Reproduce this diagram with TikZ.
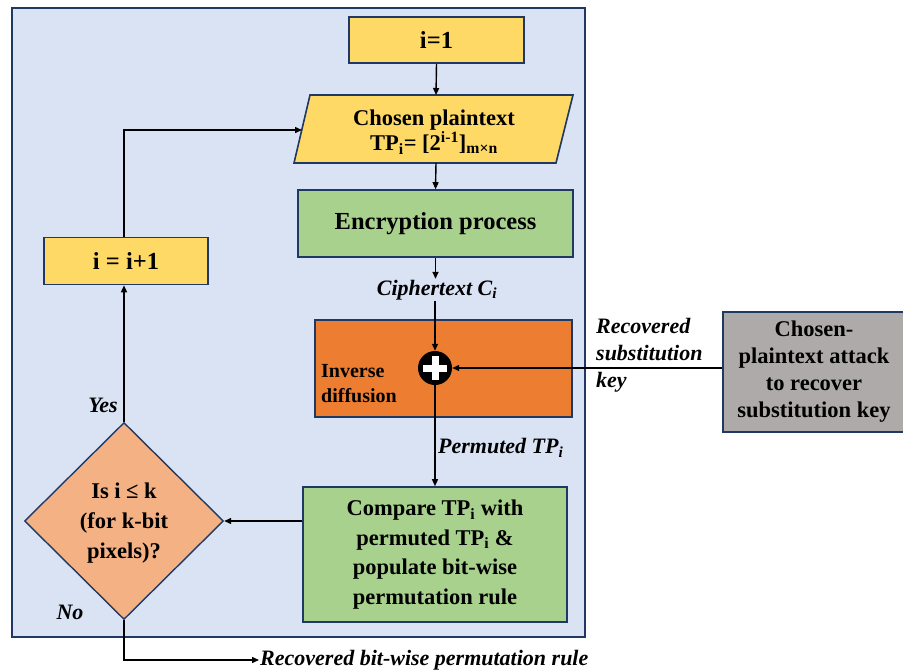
\documentclass[tikz,border=0pt]{standalone}
\usepackage{fontspec}
\setmainfont{Liberation Serif}
\usetikzlibrary{arrows.meta,shapes.geometric}
\definecolor{panel}{HTML}{DAE3F3}
\definecolor{navy}{HTML}{203864}
\definecolor{yel}{HTML}{FFD966}
\definecolor{grn}{HTML}{A9D18E}
\definecolor{org}{HTML}{ED7D31}
\definecolor{dorg}{HTML}{F4B183}
\definecolor{gry}{HTML}{AEAAAA}
\tikzset{
  box/.style={draw=navy,line width=1.6pt,inner sep=0pt,align=center,font=\fontsize{22.5}{22.5}\selectfont\bfseries},
  big/.style={font=\fontsize{24.5}{26}\selectfont\bfseries},
  lbl/.style={inner sep=1pt,font=\fontsize{22}{26}\selectfont\bfseries\itshape},
  conn/.style={line width=1.4pt,-{Triangle[length=7pt,width=6pt]}},
  plain/.style={line width=1.4pt}
}
\begin{document}
\begin{tikzpicture}[x=1pt,y=-1pt]
\useasboundingbox (0,0) rectangle (903,670);
% panel
\fill[panel,draw=navy,line width=1.8pt] (12,8) rectangle (585,637);
% i=1
\node[box,big,fill=yel,minimum width=175pt,minimum height=46pt] (i1) at (436.5,40) {i=1};
% parallelogram
\filldraw[fill=yel,draw=navy,line width=1.6pt] (310,95) -- (573,95) -- (556,163) -- (294,163) -- cycle;
\coordinate (cptop) at (436,95);
\coordinate (cpbot) at (436,163);
\coordinate (cpleft) at (302,130);
\node[box,draw=none,font=\fontsize{22.5}{25}\selectfont\bfseries] (cp) at (434,132) {Chosen plaintext\\TP\textsubscript{i}= [2\textsuperscript{i-1}]\textsubscript{m×n}};
% encryption
\node[box,big,fill=grn,minimum width=275pt,minimum height=67pt] (enc) at (435.5,223.5) {Encryption process};
% ciphertext label
\node[lbl] (ct) at (437,290) {Ciphertext \textit{C}\textsubscript{\textit{i}}};
% inverse diffusion
\node[box,fill=org,minimum width=257pt,minimum height=97pt] (inv) at (443.5,368.5) {};
\node[anchor=west,align=left,inner sep=0pt,font=\fontsize{20}{25}\selectfont\bfseries] (invt) at (321,384) {Inverse\\diffusion};
\node[circle,fill=black,minimum size=34pt,inner sep=0pt] (xor) at (435,368) {};
\draw[white,line width=7pt] (435,356) -- (435,380) (423,368) -- (447,368);
% compare
\node[box,fill=grn,minimum width=264pt,minimum height=135pt,font=\fontsize{22.5}{29.5}\selectfont\bfseries] (cmp) at (435,554.5) {Compare TP\textsubscript{i} with\\permuted TP\textsubscript{i} \&\\populate bit-wise\\permutation rule};
% diamond
\node[diamond,draw=navy,line width=1.4pt,fill=dorg,minimum width=199pt,minimum height=197pt,inner sep=0pt] (dia) at (124,521) {};
\node[box,draw=none,font=\fontsize{22.5}{30}\selectfont\bfseries] (diat) at (124,523) {Is i ≤ k\\(for k-bit\\pixels)?};
% i=i+1
\node[box,big,fill=yel,minimum width=164pt,minimum height=47pt] (inc) at (126,261) {i = i+1};
% gray
\node[box,fill=gry,minimum width=182pt,minimum height=120pt,font=\fontsize{22.5}{27}\selectfont\bfseries] (gray) at (814,372) {Chosen-\\plaintext attack\\to recover\\substitution key};
% labels
\node[lbl,anchor=west,align=left,font=\fontsize{22}{27}\selectfont\bfseries\itshape] (keyl) at (595,355) {Recovered\\substitution\\key};
\node[lbl,anchor=west] (perm) at (437,448) {Permuted \textit{TP}\textsubscript{\textit{i}}};
\node[lbl] (yes) at (103,405) {Yes};
\node[lbl] (no) at (70,612) {No};
\node[lbl,anchor=west] (out) at (259,660) {Recovered bit-wise permutation rule};
% connectors
\draw[conn] (i1.south) -- (cptop);
\draw[conn] (cpbot) -- (enc.north);
\draw[conn] (enc.south) -- (enc.south |- ct.north);
\draw[conn] (xor.north |- ct.south) -- (xor.north);
\draw[conn] (xor.south) -- (cmp.north);
\draw[conn] (gray.west |- xor.east) -- (xor.east);
\draw[conn] (dia.east -| cmp.west) -- (dia.east);
\draw[conn] (dia.north) -- (dia.north |- inc.south);
\draw[conn] (inc.north -| dia.north) |- (cpleft);
\draw[conn] (dia.south) |- (out.west);
\end{tikzpicture}
\end{document}
